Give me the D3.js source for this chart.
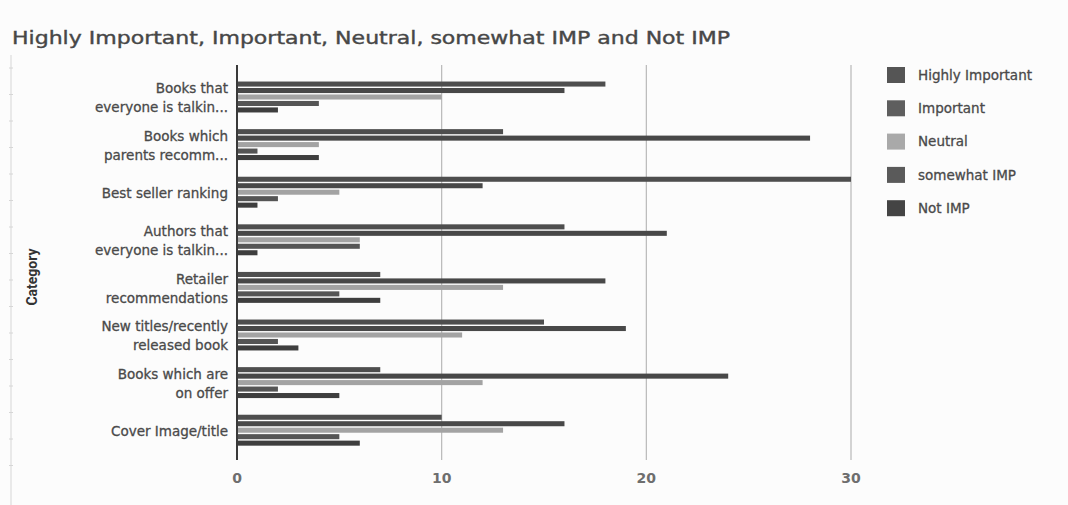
<!DOCTYPE html>
<html>
<head>
<meta charset="utf-8">
<script src="https://cdn.jsdelivr.net/npm/d3@7"></script>
<style>
  html, body { margin: 0; padding: 0; background: #fcfcfc; }
  svg { display: block; font-family: "DejaVu Sans", sans-serif; }
</style>
</head>
<body>
<svg id="chart" width="1068" height="505"></svg>
<script>
// Category labels (each entry is the lines of a wrapped label)
const categories = [
  ["Books that", "everyone is talkin..."],
  ["Books which", "parents recomm..."],
  ["Best seller ranking"],
  ["Authors that", "everyone is talkin..."],
  ["Retailer", "recommendations"],
  ["New titles/recently", "released book"],
  ["Books which are", "on offer"],
  ["Cover Image/title"]
];

const seriesNames = ["Highly Important", "Important", "Neutral", "somewhat IMP", "Not IMP"];

// Response counts per category, one array per series
const highlyImportant = [18, 13, 30, 16, 7, 15, 7, 10];
const important       = [16, 28, 12, 21, 18, 19, 24, 16];
const neutral         = [10, 4, 5, 6, 13, 11, 12, 13];
const somewhatImp     = [4, 1, 2, 6, 5, 2, 2, 5];
const notImp          = [2, 4, 1, 1, 7, 3, 5, 6];

const xTicks = [0, 10, 20, 30];

const seriesValues = [highlyImportant, important, neutral, somewhatImp, notImp];
const barColors = ["#4e4e4e", "#484848", "#a3a3a3", "#555555", "#3e3e3e"];
const legendColors = ["#555555", "#5e5e5e", "#a9a9a9", "#5a5a5a", "#444444"];

const svg = d3.select("#chart");

const x = d3.scaleLinear().domain([0, 30]).range([237, 851]);

const y0 = d3.scaleBand()
  .domain(d3.range(categories.length))
  .range([73.2, 454])
  .paddingInner(0.35)
  .paddingOuter(0.175);

const y1 = d3.scaleBand()
  .domain(d3.range(seriesNames.length))
  .range([0, y0.bandwidth()])
  .paddingInner(0.22);

// Faint ruler along the left edge
const ruler = svg.append("g").attr("stroke", "#d6d6d6");
ruler.append("line").attr("x1", 11).attr("x2", 11).attr("y1", 55).attr("y2", 505);
ruler.selectAll("line.tick")
  .data(d3.range(16))
  .join("line")
  .attr("class", "tick")
  .attr("x1", 9).attr("x2", 13)
  .attr("y1", i => 68 + i * 26.5)
  .attr("y2", i => 68 + i * 26.5);

// Title
svg.append("text")
  .attr("x", 12)
  .attr("y", 44)
  .attr("font-size", 18)
  .attr("fill", "#474747")
  .attr("stroke", "#474747")
  .attr("stroke-width", 0.4)
  .attr("textLength", 718)
  .attr("lengthAdjust", "spacingAndGlyphs")
  .text("Highly Important, Important, Neutral, somewhat IMP and Not IMP");

// Vertical gridlines
svg.append("g")
  .selectAll("line")
  .data(xTicks.filter(d => d > 0))
  .join("line")
  .attr("x1", d => x(d)).attr("x2", d => x(d))
  .attr("y1", 65).attr("y2", 460)
  .attr("stroke", "#b8b8b8")
  .attr("stroke-width", 1.2);

// Bars
const groups = svg.append("g")
  .selectAll("g")
  .data(categories.map((c, i) => i))
  .join("g")
  .attr("transform", i => `translate(0,${y0(i)})`);

groups.selectAll("rect")
  .data(i => seriesValues.map((vals, s) => ({ s, v: vals[i] })))
  .join("rect")
  .attr("x", x(0))
  .attr("y", d => y1(d.s))
  .attr("width", d => x(d.v) - x(0))
  .attr("height", y1.bandwidth())
  .attr("fill", d => barColors[d.s]);

// Zero axis line
svg.append("line")
  .attr("x1", x(0)).attr("x2", x(0))
  .attr("y1", 65).attr("y2", 460)
  .attr("stroke", "#3a3a3a")
  .attr("stroke-width", 2);

// Category labels
const lineH = 19;
svg.append("g")
  .selectAll("text")
  .data(categories.map((c, i) => ({ c, i })))
  .join("text")
  .attr("text-anchor", "end")
  .attr("font-size", 13.5)
  .attr("fill", "#4a4a4a")
  .attr("stroke", "#4a4a4a")
  .attr("stroke-width", 0.3)
  .each(function (d) {
    const cy = y0(d.i) + y0.bandwidth() / 2 + 1;
    const start = cy - (d.c.length - 1) * lineH / 2;
    d3.select(this).selectAll("tspan")
      .data(d.c)
      .join("tspan")
      .attr("x", 228)
      .attr("y", (t, k) => start + k * lineH)
      .attr("dy", "0.35em")
      .text(t => t);
  });

// X tick labels
svg.append("g")
  .selectAll("text")
  .data(xTicks)
  .join("text")
  .attr("x", d => x(d))
  .attr("y", 478)
  .attr("dy", "0.35em")
  .attr("text-anchor", "middle")
  .attr("font-size", 14)
  .attr("font-weight", "bold")
  .attr("fill", "#6e6e6e")
  .text(d => d);

// Y axis title
svg.append("text")
  .attr("transform", "translate(37,277) rotate(-90)")
  .attr("text-anchor", "middle")
  .attr("font-family", "Roboto, sans-serif")
  .attr("font-size", 14)
  .attr("font-weight", "bold")
  .attr("fill", "#333")
  .text("Category");

// Legend
const legend = svg.append("g")
  .selectAll("g")
  .data(seriesNames.map((n, i) => ({ n, i })))
  .join("g")
  .attr("transform", d => `translate(887,${75 + d.i * 33.3})`);

legend.append("rect")
  .attr("x", 0).attr("y", -8)
  .attr("width", 18).attr("height", 16)
  .attr("fill", d => legendColors[d.i]);

legend.append("text")
  .attr("x", 31)
  .attr("y", 0)
  .attr("dy", "0.35em")
  .attr("font-size", 13.5)
  .attr("fill", "#4a4a4a")
  .attr("stroke", "#4a4a4a")
  .attr("stroke-width", 0.3)
  .text(d => d.n);
</script>
</body>
</html>
